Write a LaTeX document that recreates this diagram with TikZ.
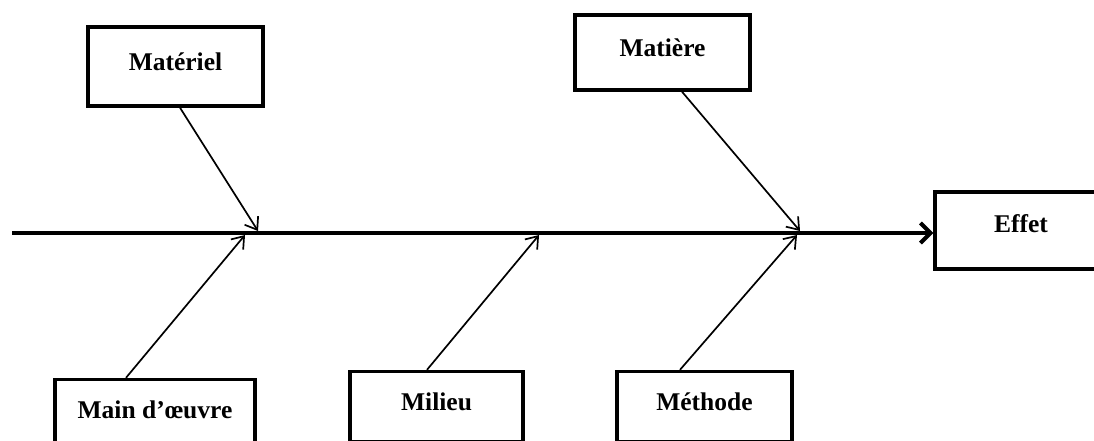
\documentclass[tikz,border=0pt]{standalone}
\usepackage{fontspec}
\setmainfont{Liberation Serif}
\usetikzlibrary{arrows.meta}
\begin{document}
\begin{tikzpicture}[x=1pt,y=-1pt,
  cause/.style={draw=black, line width=3.4pt, fill=white, inner sep=0pt,
    text height=14pt, text depth=6pt,
    font=\fontsize{25.5}{30}\selectfont\bfseries, text=black},
  branch/.style={line width=1.7pt, -{Straight Barb[length=11pt,width=16pt,line width=1.7pt]}},
  spine/.style={line width=4pt, -{Straight Barb[length=10pt,width=20pt,line width=4pt]}}]
\useasboundingbox (0,0) rectangle (1094,441);
\clip (0,0) rectangle (1094,441);

% cause boxes
\node[cause, minimum width=175pt, minimum height=79pt] (materiel) at (175.5,66.5) {Matériel};
\node[cause, minimum width=175pt, minimum height=75pt] (matiere) at (662.5,52.5) {Matière};
\node[cause, minimum width=200pt, minimum height=70pt] (main) at (155,414.5) {Main d’œuvre};
\node[cause, minimum width=173pt, minimum height=70pt] (milieu) at (436.5,406.5) {Milieu};
\node[cause, minimum width=175pt, minimum height=70pt] (methode) at (704.5,406.5) {Méthode};

% effect box
\node[cause, text depth=11pt, minimum width=172pt, minimum height=77pt] (effet) at (1021,230.5) {Effet};

% main spine
\coordinate (tail) at (12,233);
\draw[spine] (tail) -- (effet.west |- tail);

% arrival points on the spine
\coordinate (p1) at (258,231);
\coordinate (p2) at (800,231);
\coordinate (p3) at (245,235);
\coordinate (p4) at (539,235);
\coordinate (p5) at (797,235);

% branches
\draw[branch] ([xshift=4.5pt]materiel.south) -- (p1);
\draw[branch] ([xshift=19.5pt]matiere.south) -- (p2);
\draw[branch] ([xshift=-29pt]main.north) -- (p3);
\draw[branch] ([xshift=-9.5pt]milieu.north) -- (p4);
\draw[branch] ([xshift=-24.5pt]methode.north) -- (p5);
\end{tikzpicture}
\end{document}
